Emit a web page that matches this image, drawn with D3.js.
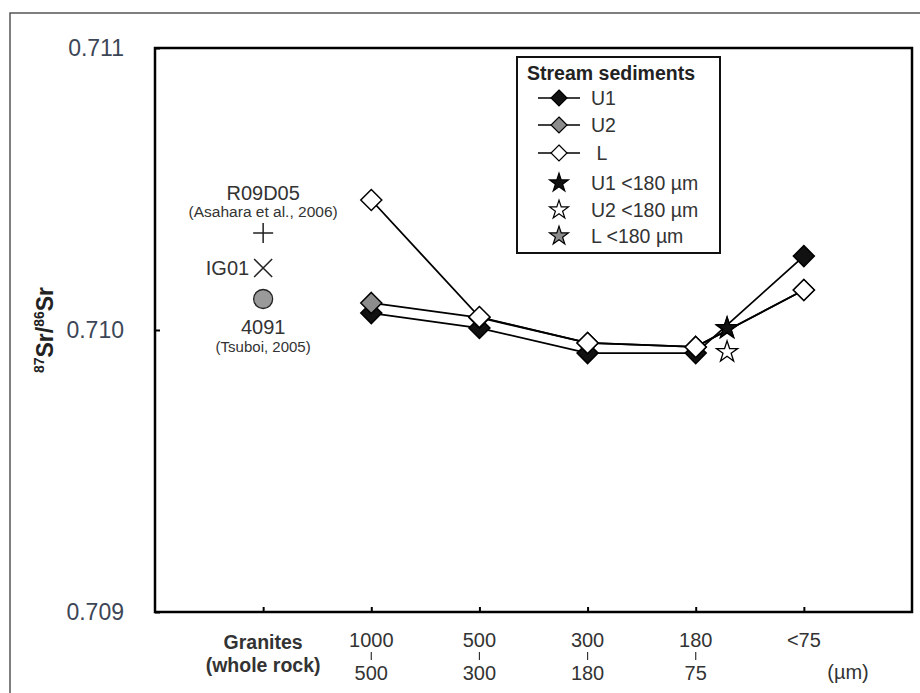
<!DOCTYPE html>
<html>
<head>
<meta charset="utf-8">
<script src="https://cdn.jsdelivr.net/npm/d3@7"></script>
<style>
  body { margin: 0; background: #fff; }
  text { font-family: "Liberation Sans", Arial, sans-serif; }
</style>
</head>
<body>
<div id="chart"></div>
<script>
// size fractions (upper / lower bound, µm), index 1 is the granite column
const fractions = [["1000", "500"], ["500", "300"], ["300", "180"], ["180", "75"], ["<75", ""]];
const fractionPos = [2, 3, 4, 5, 6];

// stream sediments 87Sr/86Sr
const u1 = [0.710060, 0.710007, 0.709918, 0.709918, 0.710262];
const u2 = [0.710096, 0.710044, 0.709954, 0.709940, 0.710142];
const lower = [0.710461, 0.710046, 0.709954, 0.709940, 0.710142];

// <180 µm samples, drawn between 180-75 and <75
const fineX = 5.29;
const fineU1 = 0.710007;
const fineU2 = 0.709922;
const fineL = 0.710005;

// granites (whole rock)
const graniteR09D05 = 0.710344;
const graniteIG01 = 0.710220;
const granite4091 = 0.710110;

const yTicks = [0.709, 0.710, 0.711];

// frame
const margin = {top: 48, right: 8, bottom: 81, left: 155},
    width = 920 - margin.left - margin.right,
    height = 693 - margin.top - margin.bottom;

const root = d3.select("#chart")
    .append("svg")
    .attr("width", 920)
    .attr("height", 693);

// outer gray border (runs off the page right/bottom)
root.append("rect")
    .attr("x", 10).attr("y", 13)
    .attr("width", 930).attr("height", 700)
    .attr("fill", "none")
    .attr("stroke", "#555")
    .attr("stroke-width", 1.5);

const svg = root.append("g")
    .attr("transform", "translate(" + margin.left + "," + margin.top + ")");

const x = d3.scaleLinear().domain([0, 7]).range([0, width]);
const y = d3.scaleLinear().domain([0.709, 0.711]).range([height, 0]);

// Y axis, ticks pointing inside
const yAxis = svg.append("g")
    .call(d3.axisLeft(y).tickValues(yTicks).tickSize(-5).tickPadding(31)
        .tickFormat(d3.format(".3f")));
yAxis.select(".domain").remove();
yAxis.selectAll("line").attr("stroke", "#000").attr("stroke-width", 2);
yAxis.selectAll("text")
    .attr("font-size", 23)
    .attr("fill", "#3c4656")
    .attr("font-family", "Liberation Sans, Arial, sans-serif");

// X axis, ticks pointing inside
const xAxis = svg.append("g")
    .attr("transform", "translate(0," + height + ")")
    .call(d3.axisBottom(x).tickValues([1, 2, 3, 4, 5, 6]).tickSize(-5).tickFormat(""));
xAxis.select(".domain").remove();
xAxis.selectAll("line").attr("stroke", "#000").attr("stroke-width", 2);

// plot frame
svg.append("rect")
    .attr("width", width).attr("height", height)
    .attr("fill", "none")
    .attr("stroke", "#000")
    .attr("stroke-width", 2.5);

// x labels
const xl = svg.append("g").attr("transform", "translate(0," + height + ")");
xl.append("text")
    .attr("x", x(1)).attr("y", 37)
    .attr("text-anchor", "middle").attr("font-weight", "bold")
    .attr("font-size", 19.5).attr("fill", "#333")
    .text("Granites");
xl.append("text")
    .attr("x", x(1)).attr("y", 60)
    .attr("text-anchor", "middle").attr("font-weight", "bold")
    .attr("font-size", 19.5).attr("fill", "#333")
    .text("(whole rock)");

fractions.forEach(function(f, i) {
  const cx = x(fractionPos[i]);
  xl.append("text")
      .attr("x", cx).attr("y", 35)
      .attr("text-anchor", "middle")
      .attr("font-size", 20).attr("fill", "#333")
      .text(f[0]);
  if (f[1]) {
    xl.append("line")
        .attr("x1", cx).attr("x2", cx)
        .attr("y1", 40).attr("y2", 48)
        .attr("stroke", "#333").attr("stroke-width", 1.2);
    xl.append("text")
        .attr("x", cx).attr("y", 68)
        .attr("text-anchor", "middle")
        .attr("font-size", 20).attr("fill", "#333")
        .text(f[1]);
  }
});
xl.append("text")
    .attr("x", 693).attr("y", 67)
    .attr("text-anchor", "middle")
    .attr("font-size", 20).attr("fill", "#333")
    .text("(µm)");

// Y axis title
const yt = root.append("text")
    .attr("transform", "translate(53,330) rotate(-90)")
    .attr("text-anchor", "middle")
    .attr("font-weight", "bold")
    .attr("font-size", 23)
    .attr("fill", "#222");
yt.append("tspan").attr("font-size", 14).attr("dy", -9).text("87");
yt.append("tspan").attr("dy", 9).text("Sr/");
yt.append("tspan").attr("font-size", 14).attr("dy", -9).text("86");
yt.append("tspan").attr("dy", 9).text("Sr");

// markers
const diamond = function(h) { return "M0," + (-h) + "L" + h + ",0L0," + h + "L" + (-h) + ",0Z"; };
const star = d3.symbol(d3.symbolStar, 140);

const series = [
  {key: "U1", values: u1, fill: "#111"},
  {key: "U2", values: u2, fill: "#8c8c8c"},
  {key: "L", values: lower, fill: "#fff"}
];

const line = d3.line()
    .x(function(d, i) { return x(fractionPos[i]); })
    .y(function(d) { return y(d); });

svg.selectAll(".series-line")
    .data(series)
    .enter()
    .append("path")
    .attr("class", "series-line")
    .attr("d", function(d) { return line(d.values); })
    .attr("fill", "none")
    .attr("stroke", "#000")
    .attr("stroke-width", 1.8);

series.forEach(function(s) {
  svg.selectAll(".pt-" + s.key)
      .data(s.values)
      .enter()
      .append("path")
      .attr("class", "pt-" + s.key)
      .attr("d", diamond(10.5))
      .attr("transform", function(d, i) { return "translate(" + x(fractionPos[i]) + "," + y(d) + ")"; })
      .attr("fill", s.fill)
      .attr("stroke", "#000")
      .attr("stroke-width", 1.5);
});

// fine (<180 µm) stars
const stars = [
  {v: fineL, fill: "#8c8c8c"},
  {v: fineU1, fill: "#111"},
  {v: fineU2, fill: "#fff"}
];
svg.selectAll(".star")
    .data(stars)
    .enter()
    .append("path")
    .attr("class", "star")
    .attr("d", star)
    .attr("transform", function(d) { return "translate(" + x(fineX) + "," + y(d.v) + ")"; })
    .attr("fill", function(d) { return d.fill; })
    .attr("stroke", "#000")
    .attr("stroke-width", 1.3);

// granites
const gx = x(1);
svg.append("path")
    .attr("d", "M-10,0H10M0,-10V10")
    .attr("transform", "translate(" + gx + "," + y(graniteR09D05) + ")")
    .attr("stroke", "#222").attr("stroke-width", 1.5);
svg.append("path")
    .attr("d", "M-9,-9L9,9M-9,9L9,-9")
    .attr("transform", "translate(" + gx + "," + y(graniteIG01) + ")")
    .attr("stroke", "#222").attr("stroke-width", 1.5);
svg.append("circle")
    .attr("cx", gx).attr("cy", y(granite4091)).attr("r", 9.5)
    .attr("fill", "#9a9a9a").attr("stroke", "#222").attr("stroke-width", 1.3);

svg.append("text")
    .attr("x", gx).attr("y", y(graniteR09D05) - 33)
    .attr("text-anchor", "middle").attr("font-size", 20).attr("fill", "#333")
    .text("R09D05");
svg.append("text")
    .attr("x", gx).attr("y", y(graniteR09D05) - 16)
    .attr("text-anchor", "middle").attr("font-size", 15.5).attr("fill", "#333")
    .text("(Asahara et al., 2006)");
svg.append("text")
    .attr("x", gx - 14).attr("y", y(graniteIG01) + 7)
    .attr("text-anchor", "end").attr("font-size", 20).attr("fill", "#333")
    .text("IG01");
svg.append("text")
    .attr("x", gx).attr("y", y(granite4091) + 35)
    .attr("text-anchor", "middle").attr("font-size", 20).attr("fill", "#333")
    .text("4091");
svg.append("text")
    .attr("x", gx).attr("y", y(granite4091) + 53)
    .attr("text-anchor", "middle").attr("font-size", 15).attr("fill", "#333")
    .text("(Tsuboi, 2005)");

// legend
const legend = root.append("g").attr("transform", "translate(517,57)");
legend.append("rect")
    .attr("width", 203).attr("height", 196)
    .attr("fill", "#fff").attr("stroke", "#111").attr("stroke-width", 2);
legend.append("text")
    .attr("x", 10).attr("y", 23)
    .attr("font-weight", "bold").attr("font-size", 19.5).attr("fill", "#222")
    .text("Stream sediments");

const legendItems = [
  {label: "U1", type: "diamond", fill: "#111"},
  {label: "U2", type: "diamond", fill: "#8c8c8c"},
  {label: " L", type: "diamond", fill: "#fff"},
  {label: "U1 <180 µm", type: "star", fill: "#111"},
  {label: "U2 <180 µm", type: "star", fill: "#fff"},
  {label: "L <180 µm", type: "star", fill: "#8c8c8c"}
];
const rowY = [41, 68, 96, 126, 153, 179];

const rows = legend.selectAll(".lg-row")
    .data(legendItems)
    .enter()
    .append("g")
    .attr("class", "lg-row")
    .attr("transform", function(d, i) { return "translate(0," + rowY[i] + ")"; });

rows.filter(function(d) { return d.type === "diamond"; })
    .append("line")
    .attr("x1", 21).attr("x2", 63)
    .attr("stroke", "#000").attr("stroke-width", 1.5);
rows.append("path")
    .attr("d", function(d) { return d.type === "diamond" ? diamond(8) : d3.symbol(d3.symbolStar, 110)(); })
    .attr("transform", "translate(42,0)")
    .attr("fill", function(d) { return d.fill; })
    .attr("stroke", "#000")
    .attr("stroke-width", 1.2);
rows.append("text")
    .attr("x", 74).attr("y", 7)
    .attr("font-size", 19.5).attr("fill", "#333")
    .attr("xml:space", "preserve")
    .style("white-space", "pre")
    .text(function(d) { return d.label; });
</script>
</body>
</html>
